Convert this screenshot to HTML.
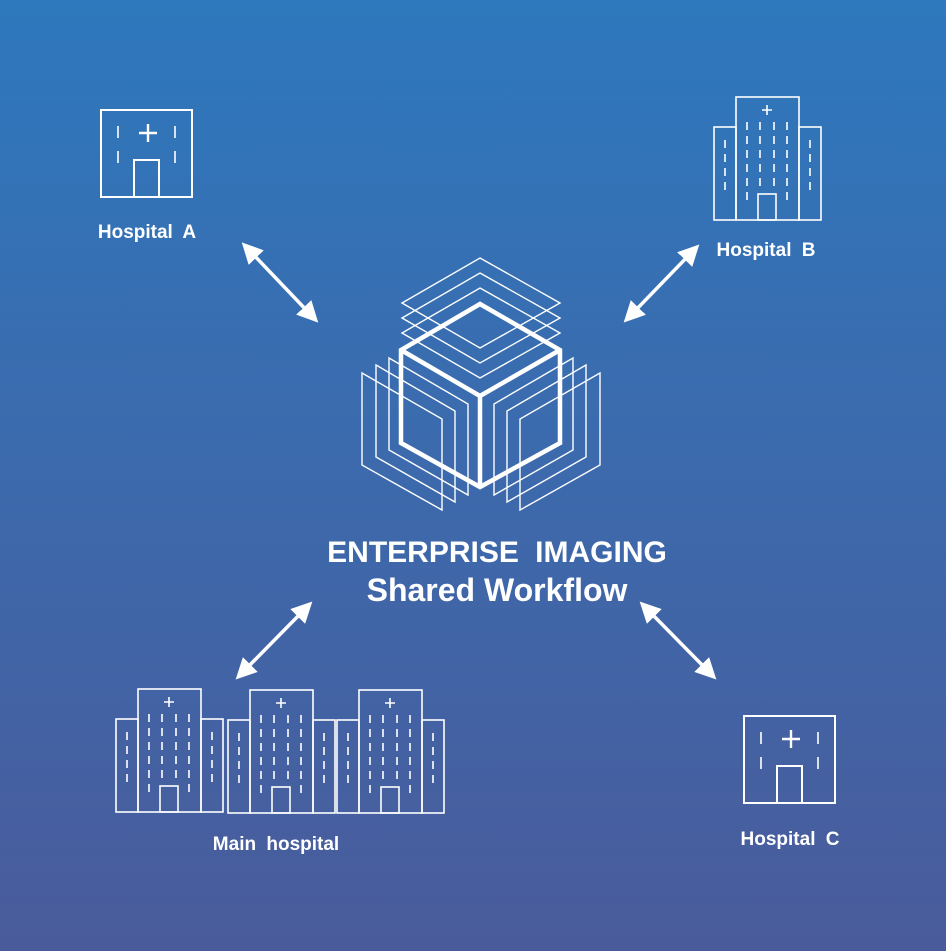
<!DOCTYPE html>
<html><head><meta charset="utf-8"><style>
html,body{margin:0;padding:0}
body{width:946px;height:951px;overflow:hidden;background:linear-gradient(#2e78bd,#4a5b9b)}
svg{display:block}
text{font-family:"Liberation Sans",Arial,sans-serif;font-weight:bold;fill:#fff}
</style></head><body>
<svg width="946" height="951" viewBox="0 0 946 951" xmlns="http://www.w3.org/2000/svg">
<defs>
<g id="tall" fill="none" stroke="#fff" stroke-width="1.6">
<rect x="-22" y="30" width="22" height="93"/>
<rect x="63" y="30" width="22" height="93"/>
<rect x="0" y="0" width="63" height="123"/>
<rect x="22" y="97" width="18" height="26"/>
<path d="M26 13h10M31 8v10"/>
<path d="M11 25v8M24 25v8M38 25v8M51 25v8M11 39v8M24 39v8M38 39v8M51 39v8M11 53v8M24 53v8M38 53v8M51 53v8M11 67v8M24 67v8M38 67v8M51 67v8M11 81v8M24 81v8M38 81v8M51 81v8M11 95v8M51 95v8"/>
<path d="M-11 43v8M74 43v8M-11 57v8M74 57v8M-11 71v8M74 71v8M-11 85v8M74 85v8"/>
</g>
<g id="small" fill="none" stroke="#fff" stroke-width="2">
<rect x="0" y="0" width="91" height="87"/>
<rect x="33" y="50" width="25" height="37"/>
<path d="M38 23h18M47 14v18" stroke-width="2.4"/>
<path d="M17 16v12M74 16v12M17 41v12M74 41v12" stroke-width="1.6"/>
</g>
<marker id="ah" markerWidth="6" markerHeight="6" refX="3" refY="3" orient="auto-start-reverse" markerUnits="strokeWidth"><path d="M0,0 L6,3 L0,6 z" fill="#fff"/></marker>
</defs>

<use href="#small" x="101" y="110"/>
<use href="#small" x="744" y="716"/>
<use href="#tall" x="736" y="97"/>
<use href="#tall" x="138" y="689"/>
<use href="#tall" x="250" y="690"/>
<use href="#tall" x="359" y="690"/>

<g stroke="#fff" stroke-width="3.5" marker-start="url(#ah)" marker-end="url(#ah)">
<line x1="249" y1="250" x2="311" y2="315"/>
<line x1="692" y1="252" x2="631" y2="315"/>
<line x1="305" y1="609" x2="243" y2="672"/>
<line x1="647" y1="609" x2="709" y2="672"/>
</g>

<g fill="none" stroke="#fff" stroke-width="1.4">
<path d="M362 373L442 419L442 510L362 465Z"/>
<path d="M376 365L455 411L455 502L376 457Z"/>
<path d="M389 358L468 404L468 495L389 450Z"/>
<path d="M600 373L520 419L520 510L600 465Z"/>
<path d="M586 365L507 411L507 502L586 457Z"/>
<path d="M573 358L494 404L494 495L573 450Z"/>
<path d="M480 258L560 303L480 348L402 303Z"/>
<path d="M480 273L560 318L480 363L402 318Z"/>
<path d="M480 288L560 333L480 378L402 333Z"/>
</g>
<g fill="none" stroke="#fff" stroke-width="4.5" stroke-linejoin="miter">
<path d="M480 304L560 350L560 443L480 487L401 443L401 350Z"/>
<path d="M401 350L480 396L560 350M480 396V487"/>
</g>

<g font-size="19" text-anchor="middle" word-spacing="5">
<text x="147" y="238">Hospital A</text>
<text x="766" y="256">Hospital B</text>
<text x="790" y="845">Hospital C</text>
<text x="276" y="850">Main hospital</text>
</g>
<text x="497" y="562" font-size="30" text-anchor="middle" word-spacing="8">ENTERPRISE IMAGING</text>
<text x="497" y="601" font-size="32" text-anchor="middle">Shared Workflow</text>
</svg>
</body></html>
